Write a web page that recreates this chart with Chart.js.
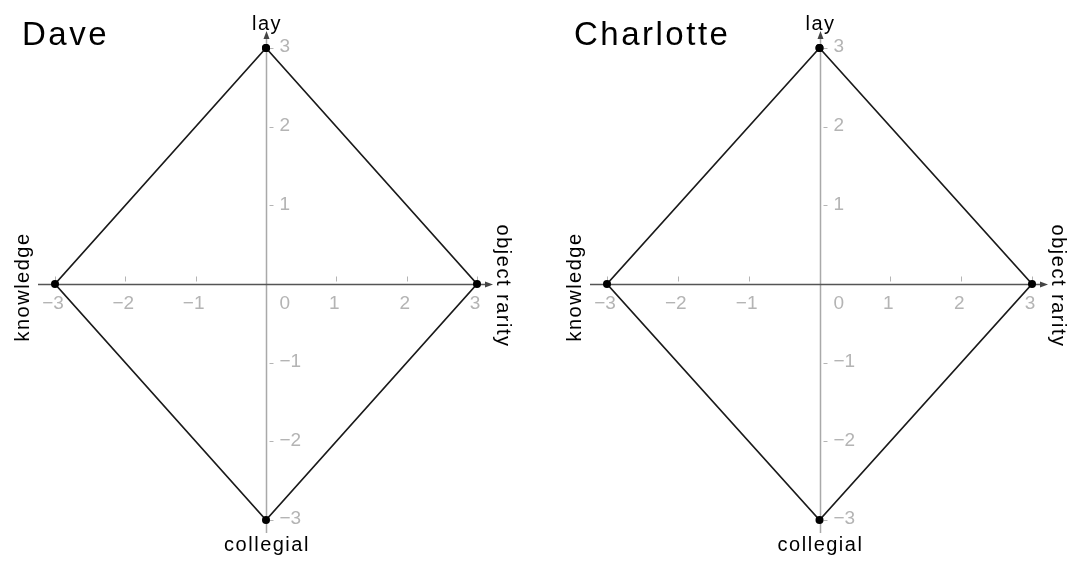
<!DOCTYPE html>
<html><head><meta charset="utf-8">
<script src="https://cdn.jsdelivr.net/npm/chart.js@4"></script>
<style>
html,body{margin:0;padding:0;background:#fff;width:1070px;height:561px;overflow:hidden}
.box{position:absolute;top:0;width:535px;height:561px}
canvas{display:block}
</style></head><body>
<div class="box" style="left:0"><canvas id="c1" width="535" height="561"></canvas></div>
<div class="box" style="left:535px"><canvas id="c2" width="535" height="561"></canvas></div>
<script>
// ---- data ----
const chartTitles = ['Dave', 'Charlotte'];
const axisTop = 'lay';
const axisBottom = 'collegial';
const axisLeft = 'knowledge';
const axisRight = 'object rarity';
const tickValues = [-3, -2, -1, 0, 1, 2, 3];
const tickLabels = ['\u22123', '\u22122', '\u22121', '0', '1', '2', '3'];
// vertices: lay, object rarity, collegial, knowledge, back to lay
const daveX = [0, 3, 0, -3, 0];
const daveY = [3, 0, -3, 0, 3];
const charlotteX = [0, 3, 0, -3, 0];
const charlotteY = [3, 0, -3, 0, 3];

const TICK_COLOR = '#b4b4b4';
const LABEL_FONT = '19px "Liberation Sans", Arial, sans-serif';
const NAME_FONT = '20px "Liberation Sans", Arial, sans-serif';
const TITLE_FONT = '33px "Liberation Sans", Arial, sans-serif';

function seg(ctx, x1, y1, x2, y2) { ctx.beginPath(); ctx.moveTo(x1, y1); ctx.lineTo(x2, y2); ctx.stroke(); }

const crossAxes = {
  id: 'crossAxes',
  beforeDatasetsDraw(chart) {
    const { ctx, scales: { x, y } } = chart;
    const x0 = Math.round(x.getPixelForValue(0)) + 0.5;
    const y0 = Math.round(y.getPixelForValue(0)) + 0.5;
    const xl = x.getPixelForValue(x.min), xr = x.getPixelForValue(x.max);
    const yt = y.getPixelForValue(y.max), yb = y.getPixelForValue(y.min);
    ctx.save();
    // vertical axis (light)
    ctx.strokeStyle = '#a9a9a9'; ctx.lineWidth = 1.5;
    seg(ctx, x0, yt - 11, x0, yb + 13);
    ctx.fillStyle = '#444';
    ctx.beginPath(); ctx.moveTo(x0, yt - 17); ctx.lineTo(x0 - 3, yt - 9); ctx.lineTo(x0 + 3, yt - 9); ctx.closePath(); ctx.fill();
    // horizontal axis (dark)
    ctx.strokeStyle = '#555'; ctx.lineWidth = 1.5;
    seg(ctx, xl - 17, y0, xr + 10, y0);
    ctx.beginPath(); ctx.moveTo(xr + 16, y0); ctx.lineTo(xr + 8, y0 - 3); ctx.lineTo(xr + 8, y0 + 3); ctx.closePath(); ctx.fill();
    // ticks
    ctx.strokeStyle = TICK_COLOR; ctx.lineWidth = 1;
    tickValues.forEach(v => {
      if (v === 0) return;
      const px = Math.round(x.getPixelForValue(v)) + 0.5;
      seg(ctx, px, y0 - 8, px, y0 - 3);
      const py = Math.round(y.getPixelForValue(v)) + 0.5;
      seg(ctx, x0 + 3, py, x0 + 7, py);
    });
    // tick labels
    ctx.fillStyle = TICK_COLOR; ctx.font = LABEL_FONT;
    tickValues.forEach((v, i) => {
      const px = x.getPixelForValue(v);
      ctx.textBaseline = 'top';
      if (v === 0) { ctx.textAlign = 'left'; ctx.fillText(tickLabels[i], x0 + 13, y0 + 10); }
      else { ctx.textAlign = 'center'; ctx.fillText(tickLabels[i], px - 2, y0 + 10); }
      if (v !== 0) {
        ctx.textAlign = 'left'; ctx.textBaseline = 'middle';
        ctx.fillText(tickLabels[i], x0 + 13, y.getPixelForValue(v) - 1);
      }
    });
    ctx.restore();
  },
  afterDraw(chart, args, opts) {
    const { ctx, scales: { x, y }, chartArea } = chart;
    const x0 = x.getPixelForValue(0), y0 = y.getPixelForValue(0);
    const xl = x.getPixelForValue(x.min), xr = x.getPixelForValue(x.max);
    const yt = y.getPixelForValue(y.max), yb = y.getPixelForValue(y.min);
    ctx.save();
    ctx.fillStyle = '#000';
    // title
    ctx.font = TITLE_FONT; ctx.letterSpacing = '2.5px';
    ctx.textAlign = 'left'; ctx.textBaseline = 'alphabetic';
    ctx.fillText(opts.title, chartArea.left - 33, 45);
    // axis names
    ctx.font = NAME_FONT; ctx.letterSpacing = '1.5px';
    ctx.textAlign = 'center';
    ctx.fillText(axisTop, x0 + 1, yt - 18);
    ctx.fillText(axisBottom, x0 + 1, yb + 31);
    ctx.textBaseline = 'middle';
    ctx.save(); ctx.translate(xl - 32, y0 + 3); ctx.rotate(-Math.PI / 2); ctx.fillText(axisLeft, 0, 0); ctx.restore();
    ctx.save(); ctx.translate(xr + 26, y0 + 2); ctx.rotate(Math.PI / 2); ctx.fillText(axisRight, 0, 0); ctx.restore();
    ctx.restore();
  }
};

function makeChart(id, title, xs, ys, padding) {
  return new Chart(document.getElementById(id), {
    type: 'scatter',
    data: {
      datasets: [{
        data: xs.map((v, i) => ({ x: v, y: ys[i] })),
        showLine: true,
        borderColor: '#1a1a1a',
        borderWidth: 1.7,
        backgroundColor: '#000',
        pointBackgroundColor: '#000',
        pointBorderColor: '#000',
        pointRadius: 4,
        pointBorderWidth: 0,
        clip: false
      }]
    },
    options: {
      responsive: false,
      animation: false,
      layout: { padding },
      scales: {
        x: { type: 'linear', min: -3, max: 3, display: false },
        y: { type: 'linear', min: -3, max: 3, display: false }
      },
      plugins: {
        legend: { display: false },
        tooltip: { enabled: false },
        crossAxes: { title }
      }
    },
    plugins: [crossAxes]
  });
}

makeChart('c1', chartTitles[0], daveX, daveY, { left: 55, right: 58, top: 48, bottom: 41 });
makeChart('c2', chartTitles[1], charlotteX, charlotteY, { left: 72, right: 38, top: 48, bottom: 41 });
</script>
</body></html>
